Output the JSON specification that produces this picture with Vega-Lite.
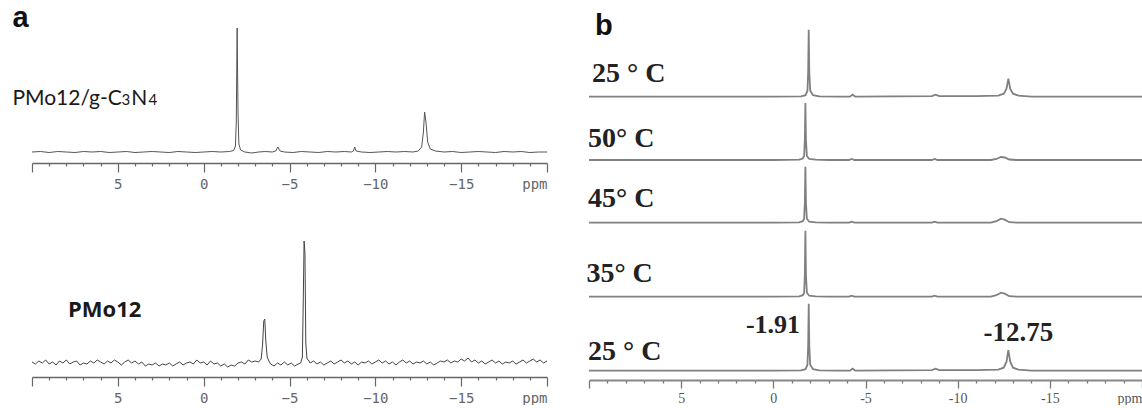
{
  "$schema": "https://vega.github.io/schema/vega-lite/v6.json",
  "autosize": {"type": "pad"},
  "padding": {"left": 12, "top": 4, "right": 0, "bottom": 0},
  "background": "white",
  "config": {"view": {"stroke": null}},
  "datasets": {
    "a1": [
      {"ppm":10,"i":0},{"ppm":9.5,"i":0.5},{"ppm":9,"i":-0.5},{"ppm":8.5,"i":0.5},{"ppm":8,"i":0},{"ppm":7.5,"i":-0.5},{"ppm":7,"i":0.5},{"ppm":6.5,"i":0},{"ppm":6,"i":0.5},{"ppm":5.5,"i":-0.5},{"ppm":5,"i":0},{"ppm":4.5,"i":0.5},{"ppm":4,"i":-0.5},{"ppm":3.5,"i":0},{"ppm":3,"i":0.5},{"ppm":2.5,"i":0},{"ppm":2,"i":-0.5},{"ppm":1.5,"i":0.5},{"ppm":1,"i":0},{"ppm":0.5,"i":-0.5},{"ppm":0,"i":0},{"ppm":-0.5,"i":0.5},{"ppm":-1,"i":0},{"ppm":-1.5,"i":0.5},{"ppm":-1.75,"i":1.5},{"ppm":-1.85,"i":6},{"ppm":-1.9,"i":30},{"ppm":-1.95,"i":124},{"ppm":-2.0,"i":40},{"ppm":-2.05,"i":8},{"ppm":-2.15,"i":2},{"ppm":-2.4,"i":0},{"ppm":-2.8,"i":-1},{"ppm":-3.2,"i":0},{"ppm":-3.6,"i":0.5},{"ppm":-4.0,"i":0},{"ppm":-4.2,"i":1},{"ppm":-4.32,"i":5},{"ppm":-4.45,"i":1},{"ppm":-4.7,"i":0},{"ppm":-5.2,"i":-0.5},{"ppm":-5.7,"i":0.5},{"ppm":-6.2,"i":0},{"ppm":-6.7,"i":-0.5},{"ppm":-7.2,"i":0.5},{"ppm":-7.7,"i":0},{"ppm":-8.2,"i":0.5},{"ppm":-8.6,"i":0},{"ppm":-8.72,"i":1},{"ppm":-8.8,"i":5},{"ppm":-8.88,"i":1},{"ppm":-9.2,"i":0},{"ppm":-9.7,"i":-0.5},{"ppm":-10.2,"i":0},{"ppm":-10.7,"i":0.5},{"ppm":-11.2,"i":0},{"ppm":-11.7,"i":0.5},{"ppm":-12.2,"i":0},{"ppm":-12.5,"i":1},{"ppm":-12.7,"i":5},{"ppm":-12.8,"i":20},{"ppm":-12.87,"i":40},{"ppm":-12.95,"i":30},{"ppm":-13.05,"i":10},{"ppm":-13.2,"i":3},{"ppm":-13.5,"i":1},{"ppm":-14,"i":0},{"ppm":-14.5,"i":0.5},{"ppm":-15,"i":-0.5},{"ppm":-15.5,"i":0},{"ppm":-16,"i":0.5},{"ppm":-16.5,"i":0},{"ppm":-17,"i":-0.5},{"ppm":-17.5,"i":0.5},{"ppm":-18,"i":0},{"ppm":-18.5,"i":0.5},{"ppm":-19,"i":-0.5},{"ppm":-19.5,"i":0},{"ppm":-20,"i":0}
    ],
    "a2": [
      {"ppm":10,"i":1},{"ppm":9.8,"i":-1},{"ppm":9.6,"i":2},{"ppm":9.4,"i":0},{"ppm":9.2,"i":3},{"ppm":9,"i":-1},{"ppm":8.8,"i":1},{"ppm":8.6,"i":-2},{"ppm":8.4,"i":2},{"ppm":8.2,"i":0},{"ppm":8,"i":3},{"ppm":7.8,"i":-1},{"ppm":7.6,"i":1},{"ppm":7.4,"i":2},{"ppm":7.2,"i":-2},{"ppm":7,"i":0},{"ppm":6.8,"i":-1},{"ppm":6.6,"i":2},{"ppm":6.4,"i":0},{"ppm":6.2,"i":3},{"ppm":6,"i":1},{"ppm":5.8,"i":-1},{"ppm":5.6,"i":2},{"ppm":5.4,"i":0},{"ppm":5.2,"i":3},{"ppm":5,"i":1},{"ppm":4.8,"i":-2},{"ppm":4.6,"i":1},{"ppm":4.4,"i":3},{"ppm":4.2,"i":0},{"ppm":4,"i":2},{"ppm":3.8,"i":-1},{"ppm":3.6,"i":1},{"ppm":3.4,"i":-3},{"ppm":3.2,"i":-1},{"ppm":3,"i":-2},{"ppm":2.8,"i":0},{"ppm":2.6,"i":-3},{"ppm":2.4,"i":-1},{"ppm":2.2,"i":-2},{"ppm":2,"i":0},{"ppm":1.8,"i":-3},{"ppm":1.6,"i":-1},{"ppm":1.4,"i":1},{"ppm":1.2,"i":-2},{"ppm":1,"i":0},{"ppm":0.8,"i":1},{"ppm":0.6,"i":-1},{"ppm":0.4,"i":3},{"ppm":0.2,"i":0},{"ppm":0,"i":1},{"ppm":-0.2,"i":-2},{"ppm":-0.4,"i":2},{"ppm":-0.6,"i":-1},{"ppm":-0.8,"i":0},{"ppm":-1,"i":-3},{"ppm":-1.2,"i":-1},{"ppm":-1.4,"i":-4},{"ppm":-1.6,"i":-2},{"ppm":-1.8,"i":-3},{"ppm":-2,"i":0},{"ppm":-2.2,"i":1},{"ppm":-2.4,"i":-1},{"ppm":-2.6,"i":3},{"ppm":-2.8,"i":1},{"ppm":-3,"i":2},{"ppm":-3.2,"i":1},{"ppm":-3.35,"i":4},{"ppm":-3.43,"i":18},{"ppm":-3.5,"i":42},{"ppm":-3.56,"i":44},{"ppm":-3.62,"i":22},{"ppm":-3.7,"i":6},{"ppm":-3.8,"i":2},{"ppm":-3.9,"i":-1},{"ppm":-4.1,"i":-3},{"ppm":-4.3,"i":0},{"ppm":-4.5,"i":-2},{"ppm":-4.7,"i":1},{"ppm":-4.9,"i":-2},{"ppm":-5.1,"i":0},{"ppm":-5.3,"i":-3},{"ppm":-5.5,"i":-1},{"ppm":-5.65,"i":0},{"ppm":-5.75,"i":6},{"ppm":-5.8,"i":60},{"ppm":-5.85,"i":122},{"ppm":-5.9,"i":110},{"ppm":-5.95,"i":20},{"ppm":-6.02,"i":4},{"ppm":-6.1,"i":3},{"ppm":-6.2,"i":0},{"ppm":-6.4,"i":2},{"ppm":-6.6,"i":-1},{"ppm":-6.8,"i":1},{"ppm":-7,"i":-2},{"ppm":-7.2,"i":0},{"ppm":-7.4,"i":2},{"ppm":-7.6,"i":-1},{"ppm":-7.8,"i":1},{"ppm":-8,"i":3},{"ppm":-8.2,"i":0},{"ppm":-8.4,"i":2},{"ppm":-8.6,"i":-1},{"ppm":-8.8,"i":1},{"ppm":-9,"i":-2},{"ppm":-9.2,"i":1},{"ppm":-9.4,"i":0},{"ppm":-9.6,"i":2},{"ppm":-9.8,"i":-1},{"ppm":-10,"i":1},{"ppm":-10.2,"i":3},{"ppm":-10.4,"i":0},{"ppm":-10.6,"i":2},{"ppm":-10.8,"i":-1},{"ppm":-11,"i":1},{"ppm":-11.2,"i":-2},{"ppm":-11.4,"i":1},{"ppm":-11.6,"i":3},{"ppm":-11.8,"i":0},{"ppm":-12,"i":2},{"ppm":-12.2,"i":-1},{"ppm":-12.4,"i":1},{"ppm":-12.6,"i":0},{"ppm":-12.8,"i":2},{"ppm":-13,"i":-1},{"ppm":-13.2,"i":1},{"ppm":-13.4,"i":-2},{"ppm":-13.6,"i":0},{"ppm":-13.8,"i":2},{"ppm":-14,"i":1},{"ppm":-14.2,"i":3},{"ppm":-14.4,"i":0},{"ppm":-14.6,"i":2},{"ppm":-14.8,"i":1},{"ppm":-15,"i":4},{"ppm":-15.2,"i":2},{"ppm":-15.4,"i":5},{"ppm":-15.6,"i":1},{"ppm":-15.8,"i":3},{"ppm":-16,"i":0},{"ppm":-16.2,"i":2},{"ppm":-16.4,"i":-1},{"ppm":-16.6,"i":1},{"ppm":-16.8,"i":3},{"ppm":-17,"i":0},{"ppm":-17.2,"i":2},{"ppm":-17.4,"i":-1},{"ppm":-17.6,"i":1},{"ppm":-17.8,"i":0},{"ppm":-18,"i":2},{"ppm":-18.2,"i":-1},{"ppm":-18.4,"i":1},{"ppm":-18.6,"i":3},{"ppm":-18.8,"i":0},{"ppm":-19,"i":2},{"ppm":-19.2,"i":4},{"ppm":-19.4,"i":1},{"ppm":-19.6,"i":3},{"ppm":-19.8,"i":0},{"ppm":-20,"i":2}
    ],
    "b1": [
      {"ppm":10,"i":0},{"ppm":5,"i":0},{"ppm":0,"i":0},{"ppm":-1.5,"i":0.3},{"ppm":-1.75,"i":1.5},{"ppm":-1.85,"i":6},{"ppm":-1.89,"i":25},{"ppm":-1.92,"i":67},{"ppm":-1.95,"i":25},{"ppm":-2.0,"i":6},{"ppm":-2.15,"i":1.5},{"ppm":-2.5,"i":0.3},{"ppm":-3.5,"i":0},{"ppm":-4.15,"i":0},{"ppm":-4.3,"i":2},{"ppm":-4.45,"i":0},{"ppm":-8.6,"i":0.5},{"ppm":-8.8,"i":2},{"ppm":-9,"i":0.5},{"ppm":-11,"i":0.5},{"ppm":-12.2,"i":1},{"ppm":-12.5,"i":3},{"ppm":-12.65,"i":8},{"ppm":-12.75,"i":18},{"ppm":-12.85,"i":8},{"ppm":-13,"i":3},{"ppm":-13.3,"i":1},{"ppm":-14,"i":0},{"ppm":-20,"i":0}
    ],
    "b2": [
      {"ppm":10,"i":0},{"ppm":0,"i":0},{"ppm":-1.4,"i":0.3},{"ppm":-1.6,"i":1.5},{"ppm":-1.67,"i":4},{"ppm":-1.71,"i":20},{"ppm":-1.74,"i":57},{"ppm":-1.77,"i":20},{"ppm":-1.82,"i":4},{"ppm":-1.95,"i":1},{"ppm":-2.3,"i":0.3},{"ppm":-3,"i":0},{"ppm":-4.1,"i":0},{"ppm":-4.25,"i":1},{"ppm":-4.4,"i":0},{"ppm":-8.6,"i":0},{"ppm":-8.75,"i":1},{"ppm":-8.9,"i":0},{"ppm":-11.8,"i":0},{"ppm":-12.1,"i":1},{"ppm":-12.35,"i":3},{"ppm":-12.55,"i":2.5},{"ppm":-12.8,"i":0.5},{"ppm":-13.2,"i":0},{"ppm":-20,"i":0}
    ],
    "b3": [
      {"ppm":10,"i":0},{"ppm":0,"i":0},{"ppm":-1.4,"i":0.3},{"ppm":-1.6,"i":1.5},{"ppm":-1.67,"i":4},{"ppm":-1.71,"i":20},{"ppm":-1.74,"i":56},{"ppm":-1.77,"i":20},{"ppm":-1.82,"i":4},{"ppm":-1.95,"i":1},{"ppm":-2.3,"i":0.3},{"ppm":-3,"i":0},{"ppm":-4.1,"i":0},{"ppm":-4.25,"i":1},{"ppm":-4.4,"i":0},{"ppm":-8.6,"i":0},{"ppm":-8.75,"i":1},{"ppm":-8.9,"i":0},{"ppm":-11.8,"i":0},{"ppm":-12.1,"i":1.5},{"ppm":-12.35,"i":4},{"ppm":-12.55,"i":3},{"ppm":-12.8,"i":0.5},{"ppm":-13.2,"i":0},{"ppm":-20,"i":0}
    ],
    "b4": [
      {"ppm":10,"i":0},{"ppm":0,"i":0},{"ppm":-1.4,"i":0.3},{"ppm":-1.6,"i":1.5},{"ppm":-1.67,"i":4},{"ppm":-1.71,"i":22},{"ppm":-1.74,"i":66},{"ppm":-1.77,"i":22},{"ppm":-1.82,"i":4},{"ppm":-1.95,"i":1},{"ppm":-2.3,"i":0.3},{"ppm":-3,"i":0},{"ppm":-4.1,"i":0},{"ppm":-4.25,"i":1},{"ppm":-4.4,"i":0},{"ppm":-8.6,"i":0},{"ppm":-8.75,"i":1},{"ppm":-8.9,"i":0},{"ppm":-11.8,"i":0},{"ppm":-12.1,"i":1.5},{"ppm":-12.35,"i":4},{"ppm":-12.55,"i":3},{"ppm":-12.8,"i":0.5},{"ppm":-13.2,"i":0},{"ppm":-20,"i":0}
    ],
    "b5": [
      {"ppm":10,"i":0},{"ppm":5,"i":0},{"ppm":0,"i":0},{"ppm":-1.5,"i":0.3},{"ppm":-1.75,"i":1.5},{"ppm":-1.85,"i":6},{"ppm":-1.89,"i":25},{"ppm":-1.92,"i":67},{"ppm":-1.95,"i":25},{"ppm":-2.0,"i":6},{"ppm":-2.15,"i":1.5},{"ppm":-2.5,"i":0.3},{"ppm":-3.5,"i":0},{"ppm":-4.15,"i":0},{"ppm":-4.3,"i":2},{"ppm":-4.45,"i":0},{"ppm":-8.6,"i":0.5},{"ppm":-8.8,"i":2},{"ppm":-9,"i":0.5},{"ppm":-11,"i":0.5},{"ppm":-12.2,"i":1},{"ppm":-12.5,"i":3},{"ppm":-12.65,"i":9},{"ppm":-12.75,"i":20.5},{"ppm":-12.85,"i":9},{"ppm":-13,"i":3},{"ppm":-13.3,"i":1},{"ppm":-14,"i":0},{"ppm":-20,"i":0}
    ],
    "one": [{}]
  },
  "hconcat": [
    {
      "vconcat": [
        {
          "width": 515, "height": 159,
          "layer": [
            {
              "data": {"name": "a1"},
              "mark": {"type": "line", "color": "#555", "strokeWidth": 1, "interpolate": "linear"},
              "encoding": {
                "x": {"field": "ppm", "type": "quantitative", "sort": null,
                      "scale": {"domain": [-20, 10], "reverse": true, "nice": false, "zero": false},
                      "axis": {"values": [10,9,8,7,6,5,4,3,2,1,0,-1,-2,-3,-4,-5,-6,-7,-8,-9,-10,-11,-12,-13,-14,-15,-16,-17,-18,-19,-20], "tickCount": 100,
                               "title": null, "grid": false, "domainColor": "#666", "domainWidth": 1.3, "tickColor": "#666", "tickWidth": 1.2,
                               "tickSize": {"condition": {"test": "datum.value % 5 === 0", "value": 9}, "value": 3},
                               "labelExpr": "datum.value === -20 ? 'ppm' : (datum.value % 5 === 0 && datum.value < 10) ? replace(format(datum.value, 'd'), '-', '\u2212') : ''",
                               "labelFont": "DejaVu Sans Mono", "labelFontSize": 14, "labelColor": "#666", "labelPadding": 5, "labelFlush": true, "labelOverlap": false}},
                "y": {"field": "i", "type": "quantitative", "scale": {"domain": [-11, 148], "nice": false, "zero": false}, "axis": null}
              }
            },
            {"data": {"name": "one"}, "mark": {"type": "text", "text": "a", "align": "left", "baseline": "alphabetic", "font": "Liberation Sans", "fontSize": 29, "fontWeight": "bold", "color": "#111"},
             "encoding": {"x": {"datum": 11.14, "type": "quantitative"}, "y": {"datum": 124.6, "type": "quantitative"}}},
            {"data": {"name": "one"}, "mark": {"type": "text", "text": "PMo12/g-C", "align": "left", "baseline": "alphabetic", "font": "Lato", "fontSize": 21, "color": "#1a1a1a"},
             "encoding": {"x": {"datum": 11.14, "type": "quantitative"}, "y": {"datum": 47, "type": "quantitative"}}},
            {"data": {"name": "one"}, "mark": {"type": "text", "text": "3", "align": "left", "baseline": "alphabetic", "font": "Lato", "fontSize": 15, "color": "#1a1a1a"},
             "encoding": {"x": {"datum": 4.78, "type": "quantitative"}, "y": {"datum": 47, "type": "quantitative"}}},
            {"data": {"name": "one"}, "mark": {"type": "text", "text": "N", "align": "left", "baseline": "alphabetic", "font": "Lato", "fontSize": 21, "color": "#1a1a1a"},
             "encoding": {"x": {"datum": 4.22, "type": "quantitative"}, "y": {"datum": 47, "type": "quantitative"}}},
            {"data": {"name": "one"}, "mark": {"type": "text", "text": "4", "align": "left", "baseline": "alphabetic", "font": "Lato", "fontSize": 15, "color": "#1a1a1a"},
             "encoding": {"x": {"datum": 3.22, "type": "quantitative"}, "y": {"datum": 47, "type": "quantitative"}}}
          ]
        },
        {
          "width": 515, "height": 155,
          "layer": [
            {
              "data": {"name": "a2"},
              "mark": {"type": "line", "color": "#444", "strokeWidth": 1, "interpolate": "linear"},
              "encoding": {
                "x": {"field": "ppm", "type": "quantitative", "sort": null,
                      "scale": {"domain": [-20, 10], "reverse": true, "nice": false, "zero": false},
                      "axis": {"values": [10,9,8,7,6,5,4,3,2,1,0,-1,-2,-3,-4,-5,-6,-7,-8,-9,-10,-11,-12,-13,-14,-15,-16,-17,-18,-19,-20], "tickCount": 100,
                               "title": null, "grid": false, "domainColor": "#666", "domainWidth": 1.3, "tickColor": "#666", "tickWidth": 1.2,
                               "tickSize": {"condition": {"test": "datum.value % 5 === 0", "value": 9}, "value": 3},
                               "labelExpr": "datum.value === -20 ? 'ppm' : (datum.value % 5 === 0 && datum.value < 10) ? replace(format(datum.value, 'd'), '-', '\u2212') : ''",
                               "labelFont": "DejaVu Sans Mono", "labelFontSize": 14, "labelColor": "#666", "labelPadding": 5, "labelFlush": true, "labelOverlap": false}},
                "y": {"field": "i", "type": "quantitative", "scale": {"domain": [-14, 141], "nice": false, "zero": false}, "axis": null}
              }
            },
            {"data": {"name": "one"}, "mark": {"type": "text", "text": "PMo12", "align": "left", "baseline": "alphabetic", "font": "Open Sans", "fontSize": 22, "fontWeight": "bold", "color": "#1a1a1a"},
             "encoding": {"x": {"datum": 7.9, "type": "quantitative"}, "y": {"datum": 46, "type": "quantitative"}}}
          ]
        }
      ],
      "spacing": 59,
      "bounds": "flush"
    },
    {
      "vconcat": [
        {
          "width": 553, "height": 96,
          "layer": [
            {"data": {"name": "b1"},
             "mark": {"type": "line", "color": "#808080", "strokeWidth": 1.8},
             "encoding": {
               "x": {"field": "ppm", "type": "quantitative", "sort": null, "scale": {"domain": [-20, 10], "reverse": true, "nice": false, "zero": false}, "axis": null},
               "y": {"field": "i", "type": "quantitative", "scale": {"domain": [-3.3, 92.7], "nice": false, "zero": false}, "axis": null}}},
            {"data": {"name": "one"}, "mark": {"type": "text", "text": "b", "align": "left", "baseline": "alphabetic", "font": "Liberation Sans", "fontSize": 29, "fontWeight": "bold", "color": "#111"},
             "encoding": {"x": {"datum": 9.67, "type": "quantitative"}, "y": {"datum": 61.7, "type": "quantitative"}}},
            {"data": {"name": "one"}, "mark": {"type": "text", "text": "25 ° C", "align": "left", "baseline": "alphabetic", "font": "Liberation Serif", "fontSize": 28, "fontWeight": "bold", "color": "#222"},
             "encoding": {"x": {"datum": 9.84, "type": "quantitative"}, "y": {"datum": 14.7, "type": "quantitative"}}}
          ]
        },
        {
          "width": 553, "height": 63,
          "layer": [
            {"data": {"name": "b2"},
             "mark": {"type": "line", "color": "#808080", "strokeWidth": 1.8},
             "encoding": {
               "x": {"field": "ppm", "type": "quantitative", "sort": null, "scale": {"domain": [-20, 10], "reverse": true, "nice": false, "zero": false}, "axis": null},
               "y": {"field": "i", "type": "quantitative", "scale": {"domain": [-3, 60], "nice": false, "zero": false}, "axis": null}}},
            {"data": {"name": "one"}, "mark": {"type": "text", "text": "50° C", "align": "left", "baseline": "alphabetic", "font": "Liberation Serif", "fontSize": 28, "fontWeight": "bold", "color": "#222"},
             "encoding": {"x": {"datum": 10.05, "type": "quantitative"}, "y": {"datum": 13, "type": "quantitative"}}}
          ]
        },
        {
          "width": 553, "height": 63,
          "layer": [
            {"data": {"name": "b3"},
             "mark": {"type": "line", "color": "#808080", "strokeWidth": 1.8},
             "encoding": {
               "x": {"field": "ppm", "type": "quantitative", "sort": null, "scale": {"domain": [-20, 10], "reverse": true, "nice": false, "zero": false}, "axis": null},
               "y": {"field": "i", "type": "quantitative", "scale": {"domain": [-3.3, 59.7], "nice": false, "zero": false}, "axis": null}}},
            {"data": {"name": "one"}, "mark": {"type": "text", "text": "45° C", "align": "left", "baseline": "alphabetic", "font": "Liberation Serif", "fontSize": 28, "fontWeight": "bold", "color": "#222"},
             "encoding": {"x": {"datum": 10.05, "type": "quantitative"}, "y": {"datum": 16, "type": "quantitative"}}}
          ]
        },
        {
          "width": 553, "height": 74,
          "layer": [
            {"data": {"name": "b4"},
             "mark": {"type": "line", "color": "#808080", "strokeWidth": 1.8},
             "encoding": {
               "x": {"field": "ppm", "type": "quantitative", "sort": null, "scale": {"domain": [-20, 10], "reverse": true, "nice": false, "zero": false}, "axis": null},
               "y": {"field": "i", "type": "quantitative", "scale": {"domain": [-3.3, 70.7], "nice": false, "zero": false}, "axis": null}}},
            {"data": {"name": "one"}, "mark": {"type": "text", "text": "35° C", "align": "left", "baseline": "alphabetic", "font": "Liberation Serif", "fontSize": 28, "fontWeight": "bold", "color": "#222"},
             "encoding": {"x": {"datum": 10.14, "type": "quantitative"}, "y": {"datum": 15, "type": "quantitative"}}}
          ]
        },
        {
          "width": 553, "height": 80,
          "layer": [
            {"data": {"name": "b5"},
             "mark": {"type": "line", "color": "#808080", "strokeWidth": 1.8},
             "encoding": {
               "x": {"field": "ppm", "type": "quantitative", "sort": null, "scale": {"domain": [-20, 10], "reverse": true, "nice": false, "zero": false},
                     "axis": {"values": [10,9,8,7,6,5,4,3,2,1,0,-1,-2,-3,-4,-5,-6,-7,-8,-9,-10,-11,-12,-13,-14,-15,-16,-17,-18,-19,-20], "tickCount": 100,
                              "title": null, "grid": false, "domainColor": "#888", "domainWidth": 2, "tickColor": "#777", "tickWidth": 1.3,
                              "tickSize": {"condition": {"test": "datum.value % 5 === 0", "value": 8}, "value": 3},
                              "labelExpr": "datum.value === -20 ? 'ppm' : (datum.value % 5 === 0 && datum.value < 10) ? replace(format(datum.value, 'd'), '\u2212', '-') : ''",
                              "labelFont": "Liberation Serif", "labelFontSize": 14, "labelColor": "#555", "labelPadding": 3, "labelFlush": true, "labelOverlap": false}},
               "y": {"field": "i", "type": "quantitative", "scale": {"domain": [-9.3, 70.7], "nice": false, "zero": false}, "axis": null}}},
            {"data": {"name": "one"}, "mark": {"type": "text", "text": "25 ° C", "align": "left", "baseline": "alphabetic", "font": "Liberation Serif", "fontSize": 28, "fontWeight": "bold", "color": "#222"},
             "encoding": {"x": {"datum": 10.05, "type": "quantitative"}, "y": {"datum": 10.7, "type": "quantitative"}}},
            {"data": {"name": "one"}, "mark": {"type": "text", "text": "-1.91", "align": "right", "baseline": "alphabetic", "font": "Liberation Serif", "fontSize": 26, "fontWeight": "bold", "color": "#222"},
             "encoding": {"x": {"datum": -1.45, "type": "quantitative"}, "y": {"datum": 38, "type": "quantitative"}}},
            {"data": {"name": "one"}, "mark": {"type": "text", "text": "-12.75", "align": "center", "baseline": "alphabetic", "font": "Liberation Serif", "fontSize": 27, "fontWeight": "bold", "color": "#222"},
             "encoding": {"x": {"datum": -13.3, "type": "quantitative"}, "y": {"datum": 30, "type": "quantitative"}}}
          ]
        }
      ],
      "spacing": 0,
      "bounds": "flush"
    }
  ],
  "spacing": 36
}
